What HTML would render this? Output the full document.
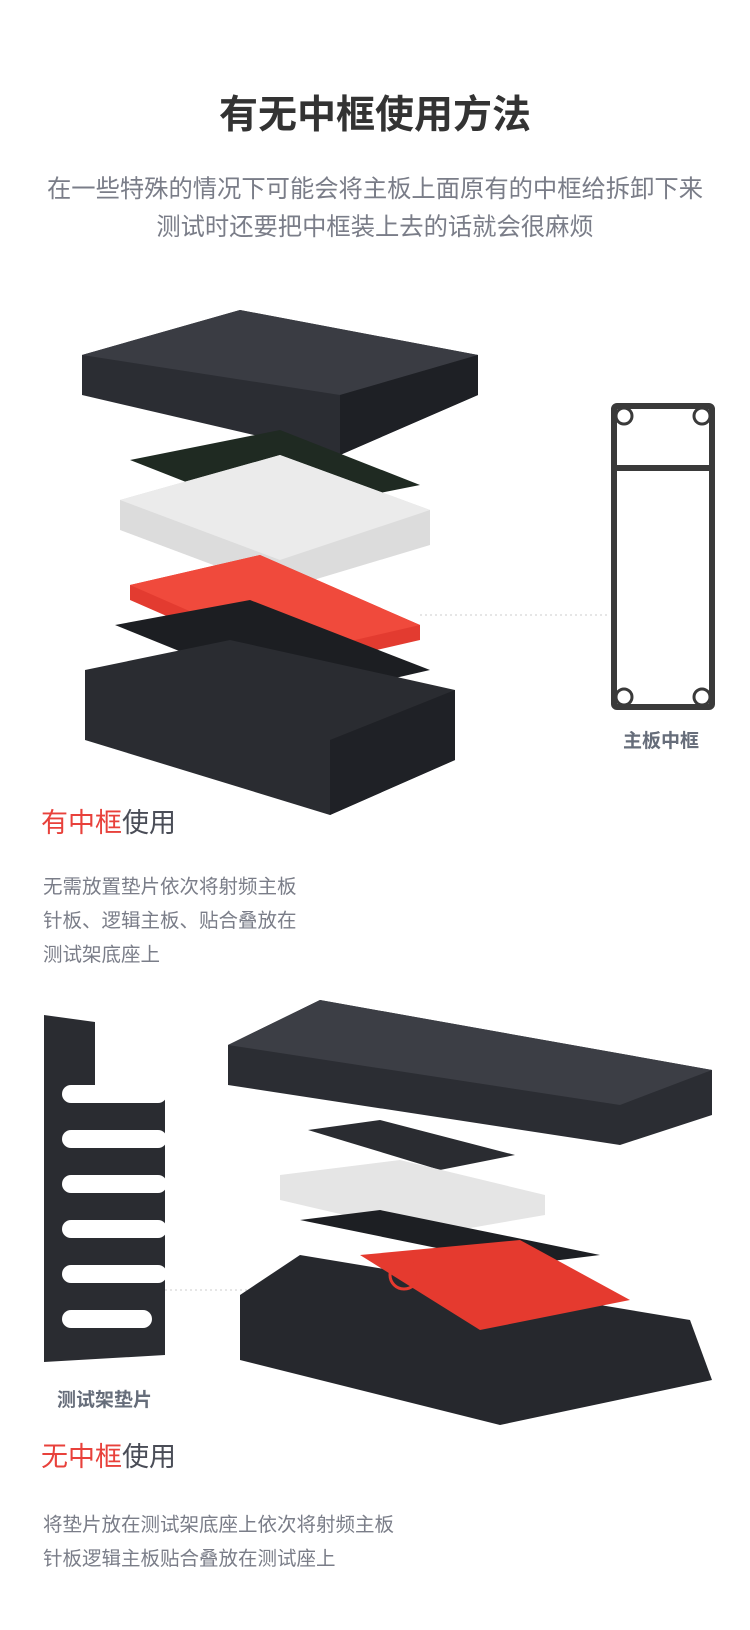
<!DOCTYPE html>
<html><head><meta charset="utf-8"><style>
body{margin:0;width:750px;height:1630px;background:#fff;position:relative;overflow:hidden;font-family:"Liberation Sans","Noto Sans CJK SC",sans-serif}
.t{position:absolute;white-space:nowrap}
</style></head><body>
<div class="t" style="left:0;width:750px;text-align:center;top:84px;font-size:39px;font-weight:bold;color:#333">有无中框使用方法</div>
<div class="t" style="left:0;width:750px;text-align:center;top:169px;font-size:24.3px;color:#7a7d88">在一些特殊的情况下可能会将主板上面原有的中框给拆卸下来</div>
<div class="t" style="left:0;width:750px;text-align:center;top:207px;font-size:24.3px;color:#7a7d88">测试时还要把中框装上去的话就会很麻烦</div>

<svg width="750" height="1630" style="position:absolute;left:0;top:0">
<polygon points="82,355 240,310 478,355 478,395 340,455 82,395" fill="#2b2d33"/>
<polygon points="82,355 240,310 478,355 340,395" fill="#3a3c43"/>
<polygon points="340,395 478,355 478,395 340,455" fill="#1e2025"/>
<polygon points="130,460 280,430 420,485 270,515" fill="#1f2a22"/>
<polygon points="120,500 280,455 430,510 430,545 280,590 120,530" fill="#dcdcdc"/>
<polygon points="120,500 280,455 430,510 280,560" fill="#ebebeb"/>
<polygon points="130,585 260,555 420,625 420,640 290,670 130,600" fill="#e33b30"/>
<polygon points="130,585 260,555 420,625 290,655" fill="#f04a3c"/>
<polygon points="115,625 250,600 430,670 300,700" fill="#1c1e22"/>
<polygon points="85,670 230,640 455,690 455,760 330,815 85,740" fill="#2a2c31"/>
<polygon points="330,740 455,690 455,760 330,815" fill="#1f2126"/>
<line x1="420" y1="615" x2="610" y2="615" stroke="#ccc" stroke-dasharray="2,3"/>
<rect x="614" y="406" width="98" height="301" rx="3" fill="none" stroke="#3a3a3a" stroke-width="6"/>
<line x1="614" y1="468" x2="712" y2="468" stroke="#3a3a3a" stroke-width="6"/>
<circle cx="624" cy="416" r="8" fill="#fff" stroke="#3a3a3a" stroke-width="3"/>
<circle cx="702" cy="416" r="8" fill="#fff" stroke="#3a3a3a" stroke-width="3"/>
<circle cx="624" cy="697" r="8" fill="#fff" stroke="#3a3a3a" stroke-width="3"/>
<circle cx="702" cy="697" r="8" fill="#fff" stroke="#3a3a3a" stroke-width="3"/>
<path d="M44,1015 L95,1022 L95,1085 L165,1095 L165,1355 L44,1362 Z" fill="#2a2c31"/>
<g fill="#fff">
<rect x="62" y="1085" width="105" height="18" rx="9"/>
<rect x="62" y="1130" width="105" height="18" rx="9"/>
<rect x="62" y="1175" width="105" height="18" rx="9"/>
<rect x="62" y="1220" width="105" height="18" rx="9"/>
<rect x="62" y="1265" width="105" height="18" rx="9"/>
<rect x="62" y="1310" width="90" height="18" rx="9"/>
</g>
<line x1="165" y1="1290" x2="385" y2="1290" stroke="#ccc" stroke-dasharray="2,3"/>
<polygon points="228,1045 320,1000 712,1070 712,1115 620,1145 228,1085" fill="#2b2d33"/>
<polygon points="228,1045 320,1000 712,1070 620,1105" fill="#3c3e45"/>
<polygon points="308,1130 380,1120 515,1155 440,1170" fill="#2a2c31"/>
<polygon points="280,1175 400,1160 545,1195 545,1215 430,1235 280,1200" fill="#e5e5e5"/>
<polygon points="300,1220 380,1210 600,1255 520,1265" fill="#1d1f23"/>
<polygon points="240,1295 300,1255 690,1320 712,1380 500,1425 240,1360" fill="#26282d"/>
<polygon points="360,1255 520,1240 630,1300 480,1330" fill="#e53a2f"/>
<circle cx="404" cy="1275" r="14" fill="none" stroke="#e53a2f" stroke-width="3"/>
</svg>

<div class="t" style="left:623px;top:726px;font-size:19px;font-weight:bold;color:#666d7a">主板中框</div>
<div class="t" style="left:41px;top:801px;font-size:27px;color:#4a4d57"><span style="color:#e8413b">有中框</span>使用</div>
<div class="t" style="left:43px;top:870px;font-size:19.5px;color:#7a7d88;line-height:34px">无需放置垫片依次将射频主板<br>针板、逻辑主板、贴合叠放在<br>测试架底座上</div>
<div class="t" style="left:57px;top:1385px;font-size:19px;font-weight:bold;color:#666d7a">测试架垫片</div>
<div class="t" style="left:41px;top:1435px;font-size:27px;color:#4a4d57"><span style="color:#e8413b">无中框</span>使用</div>
<div class="t" style="left:43px;top:1508px;font-size:19.5px;color:#7a7d88;line-height:34px">将垫片放在测试架底座上依次将射频主板<br>针板逻辑主板贴合叠放在测试座上</div>
</body></html>
